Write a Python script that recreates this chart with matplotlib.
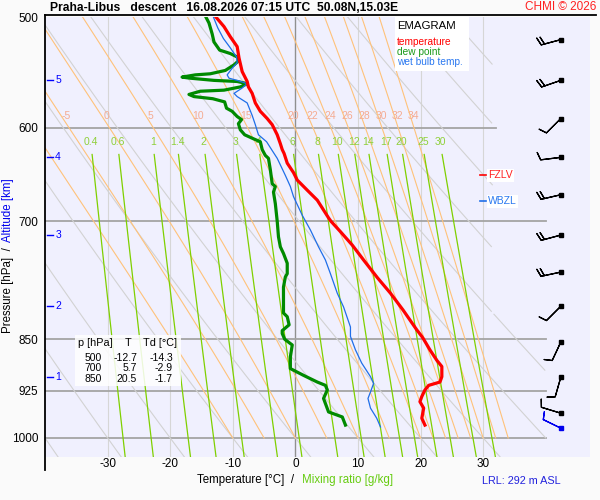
import numpy as np
import matplotlib.pyplot as plt
from matplotlib.lines import Line2D
from matplotlib.patches import Rectangle

plt.rcParams['font.family'] = ['Liberation Sans', 'DejaVu Sans']

# sounding: pressure [hPa] / temperature [degC]
temp_p = [500, 508, 516.5, 525, 535, 547, 556, 561, 567, 576, 584, 591, 597, 607, 616, 622,
          626, 636, 646, 654, 665, 676, 696, 700, 712, 728, 746, 768, 788, 810, 837, 846,
          850, 865, 880, 889, 904, 912, 917, 924, 934, 942, 952, 968, 979]
temp_t = [-12.7, -11.4, -10.4, -9.3, -9.0, -8.5, -7.7, -7.5, -6.9, -6.4, -5.6, -4.5, -3.7, -2.9, -2.4, -2.1,
          -1.8, -1.3, -0.3, 0.3, 1.9, 3.5, 5.3, 5.7, 7.2, 9.1, 10.9, 13.1, 15.2, 17.2, 19.4, 20.2,
          20.5, 21.5, 22.6, 23.4, 23.4, 23.1, 21.3, 20.7, 20.2, 19.9, 20.5, 20.2, 20.7]

dewp_p = [500, 505, 514, 521, 528, 531, 534, 537, 541, 546, 549, 550, 552, 553, 555, 556, 558,
          561, 564, 565, 568, 570, 572, 575, 581, 584, 589, 592, 596, 602, 607, 611, 614, 622,
          628, 631, 643, 658, 661, 667, 680, 700, 718, 730, 738, 750, 763, 767, 780, 797, 814,
          819, 830, 838, 842, 850, 858, 875, 892, 902, 912, 917, 924, 937, 958, 966, 979]
dewp_t = [-14.3, -13.8, -13.3, -13.0, -12.1, -10.4, -9.3, -9.0, -9.8, -11.2, -13.6, -16.0, -18.1, -16.8, -13.0, -9.3, -7.7,
          -8.8, -11.4, -15.2, -17.0, -16.2, -13.2, -11.3, -11.0, -10.1, -9.3, -8.6, -9.1, -8.8, -8.1, -6.7, -5.6, -5.3,
          -4.8, -4.3, -4.0, -3.7, -3.2, -3.5, -3.2, -2.9, -2.7, -2.4, -1.9, -1.3, -1.3, -1.6, -1.9, -1.9, -1.9,
          -1.3, -1.0, -2.1, -2.1, -1.7, -0.5, -0.8, -0.8, 1.3, 3.5, 4.8, 5.1, 4.5, 5.3, 7.5, 8.0]

wetb_p = [500, 509, 518, 526, 534, 539, 544, 550, 553, 555, 558, 562, 567, 570, 576, 588, 597,
          607, 614, 622, 631, 649, 661, 672, 693, 710, 730, 746, 763, 788, 806, 833, 846, 865,
          884, 904, 914, 927, 937, 952, 968, 982]
wetb_t = [-13.1, -12.4, -11.5, -10.4, -9.4, -9.3, -10.1, -10.9, -10.6, -9.3, -7.7, -8.5, -9.8, -9.3, -7.7, -6.9, -6.4,
          -5.9, -4.6, -3.8, -2.9, -1.6, -0.8, -0.3, 1.1, 2.4, 3.7, 4.8, 5.6, 6.7, 7.7, 8.8, 8.8, 9.6,
          10.6, 12.0, 12.5, 12.0, 11.6, 12.0, 13.0, 13.6]

table_levels = [500, 700, 850]
table_t = [-12.7, 5.7, 20.5]
table_td = [-14.3, -2.9, -1.7]

pressure_ticks = [500, 600, 700, 850, 925, 1000]
temp_ticks = [-30, -20, -10, 0, 10, 20, 30]
alt_km = [1, 2, 3, 4, 5]
alt_p = [905, 805, 716, 630, 555]

theta_w = [-10, -5, 0, 5, 10, 15, 20, 22, 24, 26, 28, 30, 32, 34]
theta_d = [-40, -30, -20, -10, 0, 10, 20, 30, 40, 50, 60, 70, 80, 90]
mix_ratio = [0.4, 0.6, 1, 1.4, 2, 3, 4, 6, 8, 10, 12, 14, 17, 20, 25, 30]

# winds every 0.5 km (5.5 km .. 0.5 km) and the surface wind
wind_p = [519, 555, 591, 630, 670, 716, 761, 805, 854, 905, 960]
wind_dir = [255, 251, 225, 263, 257, 255, 258, 225, 205, 196, 287]
wind_spd = [20, 20, 10, 10, 20, 20, 20, 10, 10, 10, 10]
sfc_p, sfc_dir, sfc_spd = 983, 296, 10

fzlv_p = 649
wbzl_p = 677

W, H = 600, 500
fig = plt.figure(figsize=(6, 5), dpi=100, facecolor='#fafafa')


def fx(x):
    return x / W


def fy(y):
    return 1 - y / H


ax = fig.add_axes([fx(45), fy(457), (590 - 45) / W, (457 - 17) / H])
ax.set_facecolor('#f0f0fe')
ax.set_yscale('log')
ax.set_xlim(-40, 47.07)
ax.set_ylim(1031.8, 500)
for s in ax.spines.values():
    s.set_visible(False)

ax.set_yticks(pressure_ticks)
ax.set_yticklabels([str(p) for p in pressure_ticks])
ax.yaxis.set_minor_locator(plt.NullLocator())
ax.set_xticks(temp_ticks)
ax.set_xticklabels([str(t) for t in temp_ticks])
ax.tick_params(axis='y', length=0, pad=5, labelsize=8.5)
ax.tick_params(axis='x', length=0, pad=1, labelsize=8.5)

# isotherms and isobars
for t in temp_ticks:
    ax.axvline(t, color='#909090' if t == 0 else '#d6d6d6', lw=1.0 if t == 0 else 0.8, zorder=1)
for p in pressure_ticks[1:]:
    ax.plot([-40, 32 if p == 600 else 40], [p, p], color='#a4a4a4', lw=1.3, zorder=1)

# dry adiabats
p_dry = np.geomspace(500, 1031.8, 300)
for th in theta_d:
    t = (th + 273.15) * (p_dry / 1000.0) ** 0.2857 - 273.15
    t = np.where((t > 40) | ((p_dry < 815) & (t > 31.5)), np.nan, t)
    ax.plot(t, p_dry, color='#d2d2d2', lw=0.8, zorder=1)


# saturated adiabats, integrated up from 1000 hPa
def moist_lapse(tk, p):
    es = 6.112 * np.exp(17.67 * (tk - 273.15) / (tk - 29.65))
    rs = 0.622 * es / (p - es)
    return (287.04 * tk + 2.501e6 * rs) / (1005.7 + 2.501e6 ** 2 * rs * 0.622 / (287.04 * tk ** 2)) / p


p_moist = np.linspace(1000, 500, 401)
tk = np.array(theta_w, dtype=float) + 273.15
moist = [tk.copy()]
for i in range(1, len(p_moist)):
    dp = p_moist[i] - p_moist[i - 1]
    k1 = moist_lapse(tk, p_moist[i - 1])
    k2 = moist_lapse(tk + k1 * dp, p_moist[i])
    tk = tk + 0.5 * (k1 + k2) * dp
    moist.append(tk.copy())
moist = np.array(moist) - 273.15
p_lab = 593
for j, tw in enumerate(theta_w):
    ax.plot(moist[:, j], p_moist, color='#ffc27a', lw=0.8, zorder=1.5)
    tl = np.interp(p_lab, p_moist[::-1], moist[::-1, j])
    if -39 < tl < 40:
        ax.text(tl + 0.3, p_lab, str(tw), color='#f5ab92', fontsize=7.5, ha='center', va='bottom', zorder=2)

# mixing ratio lines
p_mix = np.geomspace(627, 1031.8, 100)
for w in mix_ratio:
    e = w / 1000 * p_mix / (0.622 + w / 1000)
    a = np.log(e / 6.112)
    td = 243.5 * a / (17.67 - a)
    ax.plot(td, p_mix, color='#7fd000', lw=0.9, zorder=1.6)
    ax.text(td[0] - 0.2, 614, f'{w:g}', color='#8fd03a', fontsize=7.5, ha='center', va='center', zorder=2)

# profiles
ax.plot(dewp_t, dewp_p, color='#008a00', lw=2.3, zorder=4)
ax.plot(wetb_t, wetb_p, color='#1f6ee8', lw=0.9, zorder=5)
ax.plot(temp_t, temp_p, color='#ff0000', lw=2.3, zorder=6)

# wind barbs
xb = 42.4
bsize = dict(emptybarb=0, spacing=0.17, height=0.38)
wd = np.radians(wind_dir)
u = -np.array(wind_spd) * np.sin(wd)
v = -np.array(wind_spd) * np.cos(wd)
ax.barbs(np.full(len(wind_p), xb), wind_p, u, v, length=5.4, pivot='tip', color='k', lw=0.9,
         sizes=bsize, zorder=6)
ax.plot(np.full(len(wind_p), xb), wind_p, 's', color='k', ms=2.8, zorder=7)
sd = np.radians(sfc_dir)
ax.barbs([xb], [sfc_p], [-sfc_spd * np.sin(sd)], [-sfc_spd * np.cos(sd)], length=5.4, pivot='tip',
         color='#0000ee', lw=0.9, sizes=bsize, zorder=6)
ax.plot([xb], [sfc_p], 's', color='#0000ee', ms=2.8, zorder=7)

# freezing levels
ax.plot([29.5, 30.4], [fzlv_p, fzlv_p], color='#ff0000', lw=1.2, zorder=6)
ax.text(30.8, fzlv_p, 'FZLV', color='#ff2020', fontsize=7.5, va='center', ha='left', zorder=6,
        bbox=dict(boxstyle='square,pad=0.15', fc='white', ec='none'))
ax.plot([29.5, 30.4], [wbzl_p, wbzl_p], color='#1f6ee8', lw=1.2, zorder=6)
ax.text(30.8, wbzl_p, 'WBZL', color='#2a78f0', fontsize=7.5, va='center', ha='left', zorder=6,
        bbox=dict(boxstyle='square,pad=0.15', fc='white', ec='none'))

# altitude marks
yt = ax.get_yaxis_transform()
for km, p in zip(alt_km, alt_p):
    ax.plot([0.004, 0.014], [p, p], color='#0000ff', lw=1.0, transform=yt, zorder=6)
    ax.text(0.024, p, str(km), color='#0000ff', fontsize=7.5, ha='center', va='center', transform=yt, zorder=6)

# frame lines
fig.add_artist(Line2D([fx(45), fx(596)], [fy(15), fy(15)], transform=fig.transFigure, color='k', lw=1.3))
fig.add_artist(Line2D([fx(45), fx(45)], [fy(15), fy(470)], transform=fig.transFigure, color='k', lw=1.3))

# titles
fig.text(fx(50), fy(8), 'Praha-Libus   descent   16.08.2026 07:15 UTC  50.08N,15.03E',
         fontsize=8.7, fontweight='bold', ha='left', va='center')
fig.text(fx(596), fy(7), 'CHMI \u00a9 2026', color='#ff2020', fontsize=8.5, ha='right', va='center')
fig.text(fx(197), fy(480), 'Temperature [\u00b0C]  /  ', fontsize=8.3, ha='left', va='center')
fig.text(fx(302), fy(480), 'Mixing ratio [g/kg]', color='#66cc11', fontsize=8.3, ha='left', va='center')
fig.text(fx(8), fy(333), 'Pressure [hPa]  /  ', fontsize=8.3, rotation=90, ha='center', va='bottom')
fig.text(fx(8), fy(242), 'Altitude [km]', color='#0000ee', fontsize=8.3, rotation=90, ha='center', va='bottom')
fig.text(fx(482), fy(481), 'LRL: 292 m ASL', color='#2222dd', fontsize=7.8, ha='left', va='center')

# legend box
fig.add_artist(Rectangle((fx(395), fy(71)), 74 / W, 54 / H, transform=fig.transFigure,
                         fc='white', ec='none', zorder=8))
fig.text(fx(397), fy(26), 'EMAGRAM', fontsize=8.2, ha='left', va='center', zorder=9)
fig.text(fx(397), fy(42), 'temperature', color='#ff0000', fontsize=7.3, ha='left', va='center', zorder=9)
fig.text(fx(397), fy(52), 'dew point', color='#1a9a1a', fontsize=7.3, ha='left', va='center', zorder=9)
fig.text(fx(397), fy(62), 'wet bulb temp.', color='#2a78f0', fontsize=7.3, ha='left', va='center', zorder=9)

# value table
fig.add_artist(Rectangle((fx(75), fy(386)), 106 / W, 51 / H, transform=fig.transFigure,
                         fc='white', ec='none', alpha=0.85, zorder=8))
fig.text(fx(78), fy(343), 'p [hPa]', fontsize=7.8, ha='left', va='center', zorder=9)
fig.text(fx(128), fy(343), 'T', fontsize=7.8, ha='center', va='center', zorder=9)
fig.text(fx(143), fy(343), 'Td [\u00b0C]', fontsize=7.8, ha='left', va='center', zorder=9)
for i, (lv, t, td) in enumerate(zip(table_levels, table_t, table_td)):
    yy = fy(358 + 10.3 * i)
    fig.text(fx(102), yy, str(lv), fontsize=7.5, ha='right', va='center', zorder=9)
    fig.text(fx(137), yy, f'{t:.1f}', fontsize=7.5, ha='right', va='center', zorder=9)
    fig.text(fx(173), yy, f'{td:.1f}', fontsize=7.5, ha='right', va='center', zorder=9)

fig.savefig('out.png', dpi=100, facecolor=fig.get_facecolor())
